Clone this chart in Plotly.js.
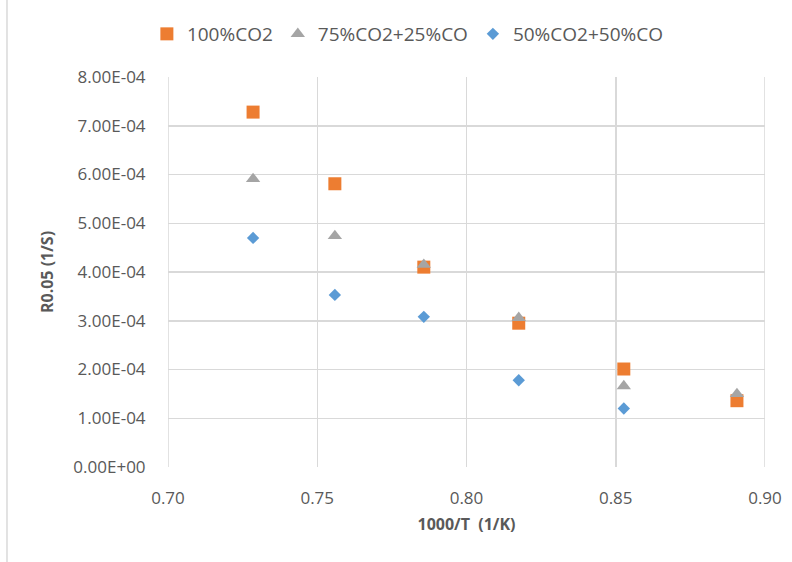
<!DOCTYPE html>
<html>
<head>
<meta charset="utf-8">
<script src="https://cdn.plot.ly/plotly-3.0.1.min.js"></script>
<style>html,body{margin:0;padding:0;background:#fff;}#chart{width:792px;height:562px;}</style>
</head>
<body>
<div id="chart"></div>
<script>
const seriesNames = ["100%CO2", "75%CO2+25%CO", "50%CO2+50%CO"];
const xCO2 = [0.7285, 0.7559, 0.7857, 0.8175, 0.8527, 0.8906];
const yCO2 = [7.28e-4, 5.81e-4, 4.10e-4, 2.95e-4, 2.01e-4, 1.36e-4];
const xMix75 = [0.7285, 0.7559, 0.7857, 0.8175, 0.8527, 0.8906];
const yMix75 = [5.91e-4, 4.74e-4, 4.15e-4, 3.06e-4, 1.66e-4, 1.50e-4];
const xMix50 = [0.7285, 0.7559, 0.7857, 0.8175, 0.8527];
const yMix50 = [4.70e-4, 3.53e-4, 3.08e-4, 1.78e-4, 1.20e-4];
const yTickVals = [0, 1e-4, 2e-4, 3e-4, 4e-4, 5e-4, 6e-4, 7e-4, 8e-4];
const yTickText = ["0.00E+00","1.00E-04","2.00E-04","3.00E-04","4.00E-04","5.00E-04","6.00E-04","7.00E-04","8.00E-04"];
const xTickVals = [0.70, 0.75, 0.80, 0.85, 0.90];
const xTickText = ["0.70","0.75","0.80","0.85","0.90"];

const font = "'Open Sans', sans-serif";
const gray = "#595959";
const grid = "#D9D9D9";
const traces = [
  {x: xCO2, y: yCO2, name: seriesNames[0], mode: "markers", type: "scatter",
   marker: {symbol: "square", size: 13, color: "#ED7D31"}},
  {x: xMix75, y: yMix75, name: seriesNames[1], mode: "markers", type: "scatter",
   marker: {symbol: "triangle-up", size: 12.5, color: "#A5A5A5"}},
  {x: xMix50, y: yMix50, name: seriesNames[2], mode: "markers", type: "scatter",
   marker: {symbol: "diamond", size: 9.5, color: "#5B9BD5"}}
];
const layout = {
  width: 792, height: 562,
  margin: {l: 168, r: 27, t: 77, b: 95},
  paper_bgcolor: "#fff", plot_bgcolor: "#fff",
  font: {family: font, size: 17, color: gray},
  showlegend: true,
  legend: {orientation: "h", xref: "container", yref: "container",
           x: 0.515, xanchor: "center", y: 1 - 34/562, yanchor: "middle",
           font: {family: font, size: 19, color: gray}, itemwidth: 30},
  xaxis: {range: [0.70, 0.90], tickvals: xTickVals, ticktext: xTickText,
          showgrid: true, gridcolor: grid, gridwidth: 1.5, zeroline: false,
          showline: false, ticks: "outside", ticklen: 16, tickcolor: "rgba(0,0,0,0)",
          tickfont: {size: 17, color: gray}, automargin: false,
          title: {text: "<b>1000/T  (1/K)</b>", font: {size: 16, color: gray}, standoff: 10}},
  yaxis: {range: [0, 8e-4], tickvals: yTickVals, ticktext: yTickText,
          showgrid: true, gridcolor: grid, gridwidth: 1.5, zeroline: false,
          showline: false, ticks: "outside", ticklen: 18, tickcolor: "rgba(0,0,0,0)",
          tickfont: {size: 17, color: gray}, automargin: false,
          title: {text: "<b>R0.05 (1/S)</b>", font: {size: 16, color: gray}, standoff: 15}},
  shapes: [
    {type: "line", xref: "paper", yref: "paper", x0: -0.2697, x1: -0.2697, y0: -0.25, y1: 1.3,
     line: {color: grid, width: 1.5}},
    {type: "line", xref: "x", yref: "paper", x0: 0.90, x1: 0.90, y0: 0, y1: 1,
     line: {color: grid, width: 1.5}},
    {type: "line", xref: "x", yref: "paper", x0: 0.70, x1: 0.70, y0: 0, y1: 1,
     line: {color: grid, width: 1.5}}
  ]
};
Plotly.newPlot("chart", traces, layout, {displayModeBar: false, staticPlot: true});
</script>
</body>
</html>
